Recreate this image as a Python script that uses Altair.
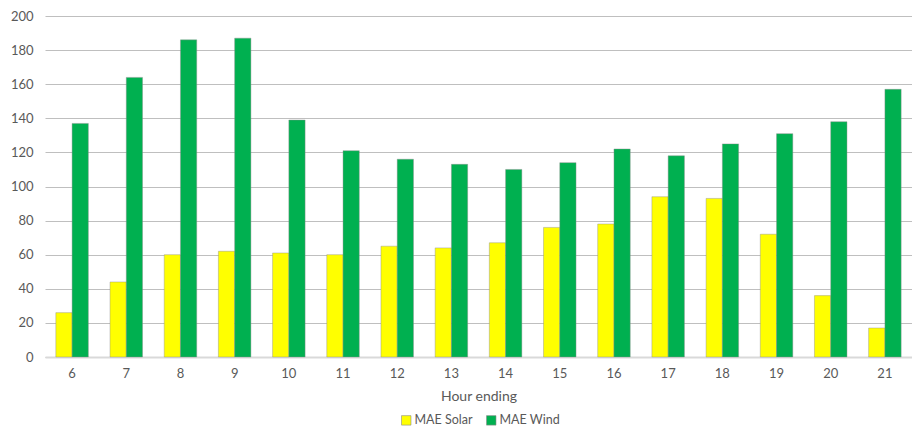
import altair as alt
import pandas as pd

hours = ["6", "7", "8", "9", "10", "11", "12", "13", "14", "15", "16", "17", "18", "19", "20", "21"]
mae_solar = [26, 44, 60, 62, 61, 60, 65, 64, 67, 76, 78, 94, 93, 72, 36, 17]
mae_wind = [137, 164, 186, 187, 139, 121, 116, 113, 110, 114, 122, 118, 125, 131, 138, 157]
series = ["MAE Solar", "MAE Wind"]
colors = ["#FFFF00", "#00B050"]

rows = []
for h, s, w in zip(hours, mae_solar, mae_wind):
    rows.append({"hour": h, "series": series[0], "value": s})
    rows.append({"hour": h, "series": series[1], "value": w})
df = pd.DataFrame(rows)

font = "Lato"
txt = "#595959"

chart = alt.Chart(df).mark_bar(stroke="#8c8c8c", strokeWidth=0.6, strokeOpacity=0.7).encode(
    x=alt.X("hour:O", sort=hours,
            scale=alt.Scale(paddingInner=0.4, paddingOuter=0.2),
            axis=alt.Axis(title="Hour ending", labelAngle=0, ticks=False,
                          domainColor="#d9d9d9", domainWidth=2,
                          labelPadding=10, titlePadding=9,
                          labelFontSize=13, titleFontSize=14,
                          labelColor=txt, titleColor=txt,
                          labelFont=font, titleFont=font, titleFontWeight="normal")),
    xOffset=alt.XOffset("series:N", sort=series, scale=alt.Scale(paddingInner=0, paddingOuter=0)),
    y=alt.Y("value:Q", scale=alt.Scale(domain=[0, 200]),
            axis=alt.Axis(values=list(range(0, 201, 20)), title=None, domain=False, ticks=False,
                          gridColor="#bfbfbf", gridWidth=1.2, labelPadding=12,
                          labelFontSize=13, labelColor=txt, labelFont=font)),
    color=alt.Color("series:N", sort=series,
                    scale=alt.Scale(domain=series, range=colors),
                    legend=alt.Legend(title=None, orient="none", direction="horizontal",
                                      legendX=355, legendY=398,
                                      symbolType="square", symbolSize=90,
                                      symbolStrokeColor="#8c8c8c", symbolStrokeWidth=0.6,
                                      labelFontSize=12.5, labelColor=txt, labelFont=font,
                                      columnPadding=12, labelOffset=2)),
).properties(
    width=867, height=341,
    autosize="none",
    padding={"left": 37, "top": 8, "right": 0, "bottom": 72},
).configure_view(stroke=None)

chart.save("out.html", embed_options={"renderer": "svg", "actions": False})
